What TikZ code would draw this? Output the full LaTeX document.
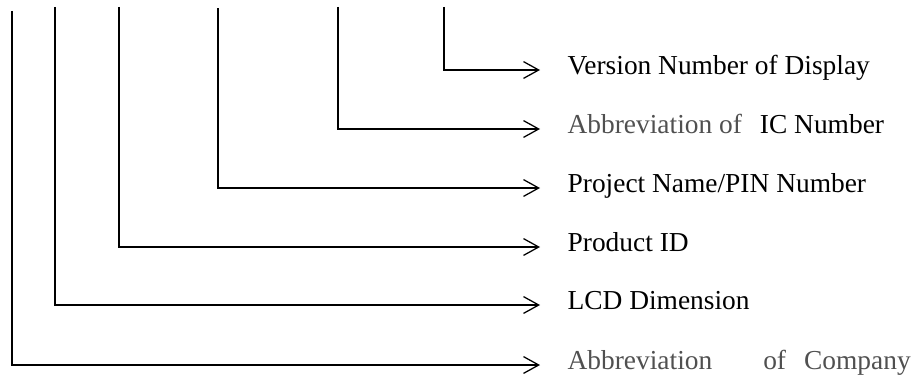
\documentclass[tikz,border=0pt]{standalone}
\usepackage{fontspec}
\setmainfont{Liberation Serif}
\usetikzlibrary{arrows.meta}
\definecolor{abbrgray}{HTML}{505050}

\begin{document}
\begin{tikzpicture}[>={Straight Barb[length=3.8mm,width=4.2mm]}, line width=0.9pt,
    every node/.style={anchor=west, inner xsep=0.675cm, inner ysep=0pt, text height=0.66em, text depth=0pt, font=\fontsize{19.5}{23}\selectfont}]

    % Fix the page to the reference size
    \useasboundingbox (0,0) rectangle (22.95,9.575);

    % Top ends of the code digits (left to right)
    \coordinate (tcomp) at (0.3, 9.3);
    \coordinate (tlcd) at (1.375, 9.4);
    \coordinate (tprod) at (2.975, 9.4);
    \coordinate (tproj) at (5.45, 9.37);
    \coordinate (tic) at (8.45, 9.4);
    \coordinate (tvers) at (11.1, 9.4);

    % Meaning of each digit (right side)
    \node (vers) at (13.5, 7.825) {Version Number of Display};
    \node (ic) at (13.5, 6.35) {{\color{abbrgray}Abbreviation of}\hspace{0.45cm}IC Number};
    \node (proj) at (13.5, 4.875) {Project Name/PIN Number};
    \node (prod) at (13.5, 3.4) {Product ID};
    \node (lcd) at (13.5, 1.95) {LCD Dimension};
    \node (comp) at (13.5, 0.45) {\color{abbrgray}Abbreviation\hspace{1.275cm}of\hspace{0.45cm}Company};

    % Leaders from the digits to their meanings
    \draw[->] (tvers) |- (vers.west);
    \draw[->] (tic) |- (ic.west);
    \draw[->] (tproj) |- (proj.west);
    \draw[->] (tprod) |- (prod.west);
    \draw[->] (tlcd) |- (lcd.west);
    \draw[->] (tcomp) |- (comp.west);

\end{tikzpicture}
\end{document}
